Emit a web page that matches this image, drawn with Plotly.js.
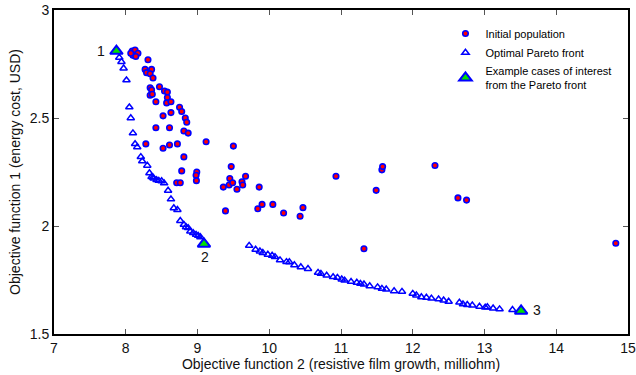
<!DOCTYPE html>
<html>
<head>
<meta charset="utf-8">
<script src="https://cdn.plot.ly/plotly-3.0.1.min.js"></script>
<style>html,body{margin:0;padding:0;background:#fff;}#chart{width:636px;height:375px;}</style>
</head>
<body>
<div id="chart"></div>
<script>
// Initial population
const initX = [8.09,8.13,8.17,8.10,8.14,8.07,8.31,8.27,8.36,8.29,8.34,8.38,8.34,8.36,8.47,8.54,8.58,8.34,8.37,8.58,
  8.42,8.57,8.63,8.75,8.78,8.63,8.52,8.83,8.85,8.42,8.61,8.81,8.87,8.28,8.52,8.61,8.72,9.12,9.50,8.81,
  9.47,8.78,8.99,8.98,9.45,9.67,8.985,8.71,8.76,9.36,9.44,9.49,9.55,9.62,9.63,9.86,10.93,9.39,9.84,9.90,
  10.05,10.20,10.47,10.43,11.49,11.57,11.58,12.31,12.63,12.75,11.32,14.83];
const initY = [2.81,2.815,2.80,2.79,2.785,2.80,2.77,2.725,2.725,2.71,2.705,2.685,2.64,2.63,2.645,2.625,2.62,2.605,2.61,2.595,
  2.575,2.57,2.575,2.55,2.53,2.525,2.51,2.50,2.48,2.455,2.455,2.44,2.43,2.38,2.36,2.375,2.38,2.39,2.37,2.32,
  2.275,2.255,2.25,2.235,2.22,2.23,2.21,2.20,2.20,2.18,2.19,2.20,2.17,2.205,2.19,2.18,2.23,2.07,2.08,2.10,
  2.10,2.06,2.085,2.045,2.165,2.26,2.275,2.28,2.13,2.12,1.895,1.92];

// Optimal Pareto front
const paretoX = [7.91,7.94,7.97,8.01,8.05,8.07,8.10,8.13,8.16,8.21,8.23,8.30,8.33,8.36,8.38,8.39,8.43,8.46,8.50,8.535,
  8.59,8.63,8.67,8.72,8.76,8.81,8.84,8.87,8.90,8.94,8.98,9.01,9.04,
  9.72,9.81,9.87,9.91,9.98,10.04,10.08,10.15,10.24,10.28,10.35,10.44,10.54,10.68,10.72,10.80,10.89,10.95,11.01,11.05,
  11.14,11.22,11.27,11.32,11.40,11.51,11.57,11.63,11.74,11.85,12.00,12.05,12.12,12.19,12.26,12.36,12.43,12.50,
  12.65,12.70,12.76,12.83,12.93,13.01,13.04,13.12,13.21,13.39];
const paretoY = [2.78,2.76,2.73,2.675,2.55,2.50,2.43,2.38,2.365,2.32,2.30,2.28,2.245,2.228,2.225,2.22,2.213,2.21,2.208,2.198,
  2.164,2.124,2.083,2.075,2.024,2.006,1.995,1.991,1.975,1.968,1.960,1.955,1.949,
  1.909,1.891,1.883,1.876,1.868,1.863,1.857,1.842,1.834,1.833,1.819,1.810,1.802,1.784,1.779,1.771,1.764,1.761,1.753,1.748,
  1.742,1.738,1.733,1.730,1.722,1.717,1.710,1.707,1.699,1.696,1.687,1.679,1.671,1.669,1.665,1.661,1.656,1.650,
  1.646,1.638,1.635,1.633,1.627,1.623,1.625,1.619,1.615,1.612];

// Example cases of interest
const caseX = [7.87, 9.09, 13.51];
const caseY = [2.81, 1.917, 1.607];
const caseLabels = ["1", "2", "3"];
const caseLabelX = [7.66, 9.10, 13.73];
const caseLabelY = [2.81, 1.855, 1.61];

const xTicks = [7,8,9,10,11,12,13,14,15];
const yTicks = [1.5,2,2.5,3];

const FONT = "Liberation Sans, Arial, sans-serif";

const traces = [
  {x: initX, y: initY, type: 'scatter', mode: 'markers', name: 'Initial population',
   marker: {symbol: 'circle', size: 5.5, color: '#ff0000', line: {color: '#0000ff', width: 1.6}}},
  {x: paretoX, y: paretoY, type: 'scatter', mode: 'markers', name: 'Optimal Pareto front',
   marker: {symbol: 'triangle-up-open', size: 6.5, color: '#0000ff', line: {width: 1.5}}},
  {x: caseX, y: caseY, type: 'scatter', mode: 'markers', name: 'Example cases of interest<br>from the Pareto front',
   marker: {symbol: 'triangle-up', size: 11, color: '#00e000', line: {color: '#0000ff', width: 2}}}
];

const annotations = caseLabels.map((t, i) => ({
  x: caseLabelX[i], y: caseLabelY[i], xref: 'x', yref: 'y', text: t, showarrow: false,
  font: {family: FONT, size: 14, color: '#111'}
}));

const layout = {
  width: 636, height: 375,
  margin: {l: 54, r: 8, t: 10, b: 41, pad: 0},
  paper_bgcolor: '#fff', plot_bgcolor: '#fff',
  font: {family: FONT, size: 14, color: '#111'},
  showlegend: true,
  legend: {x: 0.682, y: 0.972, xanchor: 'left', yanchor: 'top', bgcolor: 'rgba(255,255,255,0)',
           font: {family: FONT, size: 11, color: '#000'}, tracegroupgap: 2},
  xaxis: {range: [7, 15], tickvals: xTicks, ticktext: xTicks.map(String), ticks: 'inside', ticklen: 5,
          tickcolor: '#555', tickwidth: 1, showline: true, linecolor: '#000', linewidth: 2, mirror: 'allticks',
          showgrid: false, zeroline: false, tickfont: {family: FONT, size: 14, color: '#111'},
          title: {text: 'Objective function 2 (resistive film growth, milliohm)', font: {family: FONT, size: 14, color: '#111'}, standoff: 4}},
  yaxis: {range: [1.5, 3], tickvals: yTicks, ticktext: yTicks.map(String), ticks: 'inside', ticklen: 5,
          tickcolor: '#555', tickwidth: 1, showline: true, linecolor: '#000', linewidth: 2, mirror: 'allticks',
          showgrid: false, zeroline: false, tickfont: {family: FONT, size: 14, color: '#111'},
          title: {text: 'Objective function 1 (energy cost, USD)', font: {family: FONT, size: 14, color: '#111'}, standoff: 6}},
  annotations: annotations
};

Plotly.newPlot('chart', traces, layout, {staticPlot: true, displayModeBar: false});
</script>
</body>
</html>
